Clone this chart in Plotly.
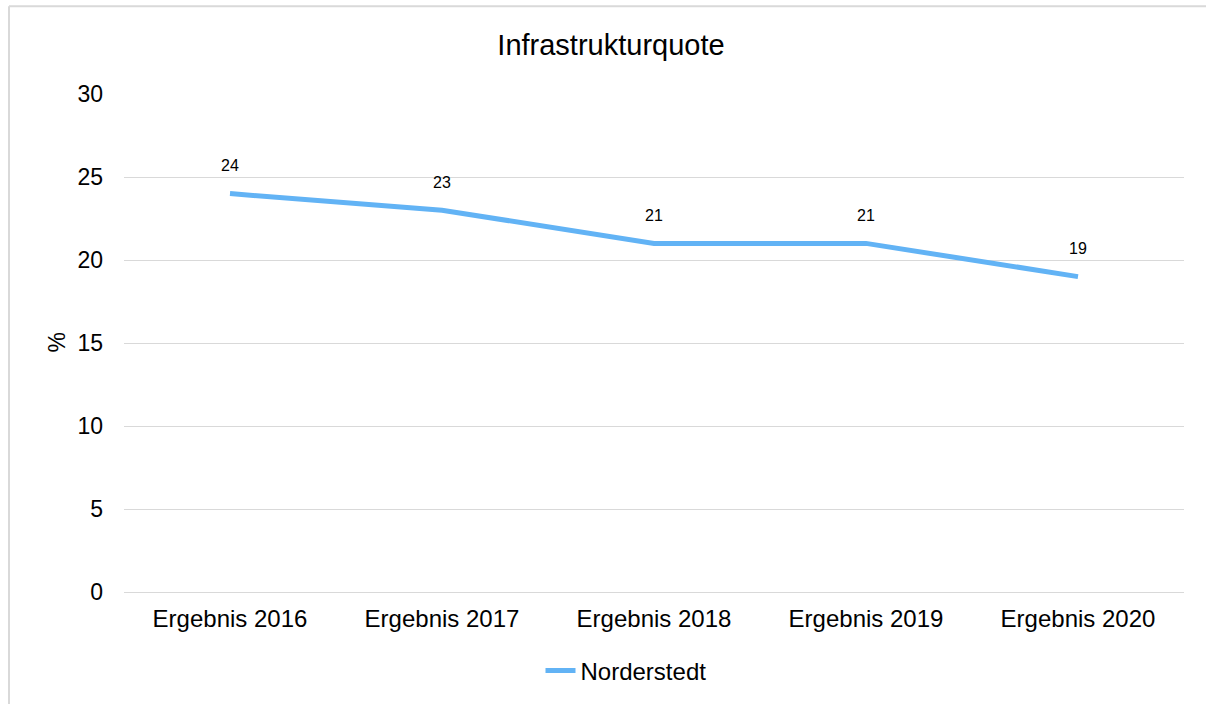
import plotly.graph_objects as go

categories = ["Ergebnis 2016", "Ergebnis 2017", "Ergebnis 2018", "Ergebnis 2019", "Ergebnis 2020"]
values = [24, 23, 21, 21, 19]
series_name = "Norderstedt"
title_text = "Infrastrukturquote"
y_ticks = [0, 5, 10, 15, 20, 25, 30]

FONT = "Liberation Sans, Arial, sans-serif"
LINE_COLOR = "#62b3f5"
GRID = "#d9d9d9"

fig = go.Figure()
fig.add_trace(go.Scatter(
    x=categories, y=values, mode="lines", name=series_name,
    line=dict(color=LINE_COLOR, width=5),
    showlegend=True,
))

for c, v in zip(categories, values):
    fig.add_annotation(x=c, y=v, text=str(v), showarrow=False, yshift=28,
                       font=dict(family=FONT, size=16, color="#000000"))

fig.add_annotation(xref="paper", yref="paper", x=(57 - 124) / 1060, y=(593 - 343) / 499,
                   xanchor="center", yanchor="middle",
                   text="%", textangle=-90, showarrow=False,
                   font=dict(family=FONT, size=23, color="#000000"))

# chart-area frame (left and top edges visible in the reference)
bx0 = (9 - 124) / 1060
by1 = (593 - 6) / 499
fig.add_shape(type="line", xref="paper", yref="paper", x0=bx0, x1=bx0, y0=-0.5, y1=by1,
              line=dict(color=GRID, width=2), layer="below")
fig.add_shape(type="line", xref="paper", yref="paper", x0=bx0, x1=1.3, y0=by1, y1=by1,
              line=dict(color=GRID, width=2), layer="below")

fig.update_layout(
    width=1206, height=704,
    margin=dict(l=124, r=22, t=94, b=111),
    paper_bgcolor="white", plot_bgcolor="white",
    title=dict(text=title_text, x=(611 - 124) / 1060, xref="paper", xanchor="center",
               y=1 - 45 / 704, yanchor="middle",
               font=dict(family=FONT, size=29, color="#000000")),
    font=dict(family=FONT, color="#000000"),
    xaxis=dict(type="category", range=[-0.5, 4.5], showgrid=False, showline=False,
               zeroline=False, ticks="", tickfont=dict(size=24), ticklabelstandoff=10),
    yaxis=dict(range=[0, 30], tickvals=y_ticks, showgrid=True, gridcolor=GRID, gridwidth=1.3,
               zeroline=True, zerolinecolor=GRID, zerolinewidth=1.3, showline=False,
               ticks="", tickfont=dict(size=23), ticklabelstandoff=20),
    legend=dict(orientation="h", x=(626 - 124) / 1060, xanchor="center",
                y=(593 - 671) / 499, yanchor="middle",
                font=dict(family=FONT, size=24, color="#000000")),
)

fig.write_html("out.html", config={"displayModeBar": False},
               post_script="document.body.style.margin='0px';document.body.style.overflow='hidden';")
